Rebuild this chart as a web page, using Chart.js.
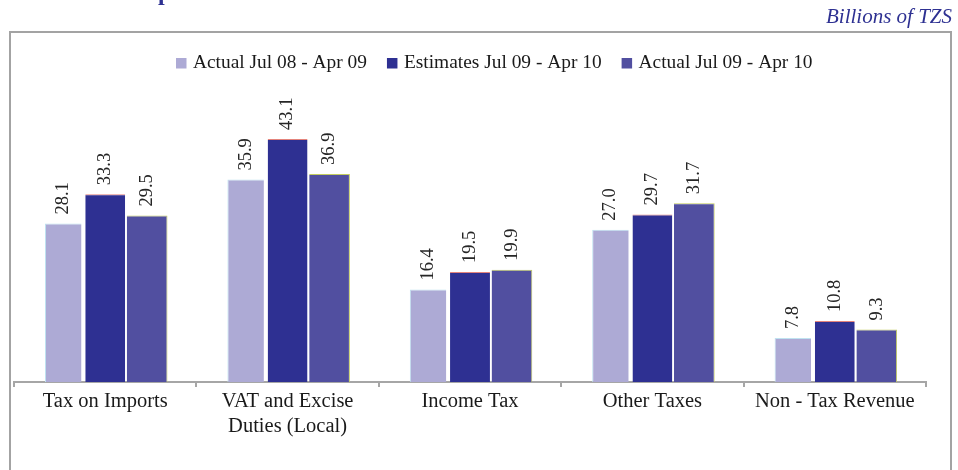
<!DOCTYPE html>
<html>
<head>
<meta charset="utf-8">
<script src="https://cdn.jsdelivr.net/npm/chart.js@4/dist/chart.umd.min.js"></script>
<style>
  html, body { margin: 0; padding: 0; background: #ffffff; }
  #chart { display: block; }
</style>
</head>
<body>
<canvas id="chart" width="958" height="470"></canvas>
<script>
// Revenue collections by category (Billions of TZS)
const categories = [
  ['Tax on Imports'],
  ['VAT and Excise', 'Duties (Local)'],
  ['Income Tax'],
  ['Other Taxes'],
  ['Non - Tax Revenue']
];
const seriesNames = ['Actual Jul 08 - Apr 09', 'Estimates Jul 09 - Apr 10', 'Actual Jul 09 - Apr 10'];
const actual0809 = [28.1, 35.9, 16.4, 27.0, 7.8];
const estimates0910 = [33.3, 43.1, 19.5, 29.7, 10.8];
const actual0910 = [29.5, 36.9, 19.9, 31.7, 9.3];
const unitLabel = 'Billions of TZS';
const titleText = 'Revenue Components';

const SERIF = "'Liberation Serif', 'Times New Roman', serif";
const fills = ['#ADAAD5', '#2E3092', '#514FA0'];
const edges = ['#BFE2F0', '#E4847C', '#C3CC5E'];

// Frame, unit note and heading
const framePlugin = {
  id: 'frame',
  beforeDraw(chart) {
    const ctx = chart.ctx;
    ctx.save();
    ctx.fillStyle = '#ffffff';
    ctx.fillRect(0, 0, chart.width, chart.height);
    ctx.strokeStyle = '#A3A3A3';
    ctx.lineWidth = 2;
    ctx.strokeRect(10, 32, 941, 500);

    ctx.fillStyle = '#2E3192';
    ctx.font = "italic 21px " + SERIF;
    ctx.textAlign = 'right';
    ctx.textBaseline = 'alphabetic';
    ctx.fillText(unitLabel, 952, 23);

    // heading sits above the frame; only its descender reaches the page
    ctx.font = "bold 24px " + SERIF;
    ctx.textAlign = 'left';
    const lead = ctx.measureText('Revenue Com').width;
    ctx.fillText(titleText, 158 - lead, 0);
    ctx.restore();
  }
};

// Legend row above the plot
const legendPlugin = {
  id: 'legendRow',
  afterDraw(chart) {
    const ctx = chart.ctx;
    ctx.save();
    ctx.font = "19.4px " + SERIF;
    ctx.textBaseline = 'alphabetic';
    ctx.textAlign = 'left';
    let x = 176;
    chart.data.datasets.forEach((ds) => {
      ctx.fillStyle = ds.backgroundColor;
      ctx.fillRect(x, 58, 10.5, 10.5);
      x += 17;
      ctx.fillStyle = '#1a1a1a';
      ctx.fillText(ds.label, x, 68);
      x += ctx.measureText(ds.label).width + 20;
    });
    ctx.restore();
  }
};

// Rotated value labels above every bar
const valueLabelPlugin = {
  id: 'valueLabels',
  afterDatasetsDraw(chart) {
    const ctx = chart.ctx;
    ctx.save();
    ctx.font = "18.5px " + SERIF;
    ctx.fillStyle = '#262626';
    ctx.textAlign = 'left';
    ctx.textBaseline = 'middle';
    chart.data.datasets.forEach((ds, i) => {
      const meta = chart.getDatasetMeta(i);
      meta.data.forEach((bar, j) => {
        ctx.save();
        ctx.translate(bar.x, bar.y - 9);
        ctx.rotate(-Math.PI / 2);
        ctx.fillText(ds.data[j].toFixed(1), 0, 0);
        ctx.restore();
      });
    });
    ctx.restore();
  }
};

const barPct = [0.87, 0.95, 0.97];
const seriesData = [actual0809, estimates0910, actual0910];
const borders = [
  { top: 1, left: 1, right: 0, bottom: 0 },
  { top: 1, left: 0, right: 0, bottom: 0 },
  { top: 1, left: 0, right: 1, bottom: 0 }
];

new Chart(document.getElementById('chart'), {
  type: 'bar',
  data: {
    labels: categories,
    datasets: seriesNames.map((name, i) => ({
      label: name,
      data: seriesData[i],
      backgroundColor: fills[i],
      borderColor: edges[i],
      borderWidth: borders[i],
      borderSkipped: false,
      barPercentage: barPct[i],
      categoryPercentage: 0.69
    }))
  },
  options: {
    responsive: false,
    devicePixelRatio: 1,
    animation: false,
    layout: { padding: { top: 100, left: 14, right: 32, bottom: 0 } },
    plugins: {
      legend: { display: false },
      tooltip: { enabled: false },
      title: { display: false }
    },
    scales: {
      x: {
        afterFit(scale) { scale.height = 88; },
        grid: {
          offset: true,
          drawOnChartArea: false,
          drawTicks: true,
          tickLength: 5,
          color: '#A6A6A6',
          lineWidth: 2
        },
        border: { display: true, color: '#A6A6A6', width: 2 },
        ticks: {
          font: { family: SERIF, size: 20.5, lineHeight: 1.22 },
          color: '#1a1a1a',
          padding: 2,
          maxRotation: 0,
          autoSkip: false
        }
      },
      y: {
        display: false,
        min: 0,
        max: 50
      }
    }
  },
  plugins: [framePlugin, legendPlugin, valueLabelPlugin]
});
</script>
</body>
</html>
